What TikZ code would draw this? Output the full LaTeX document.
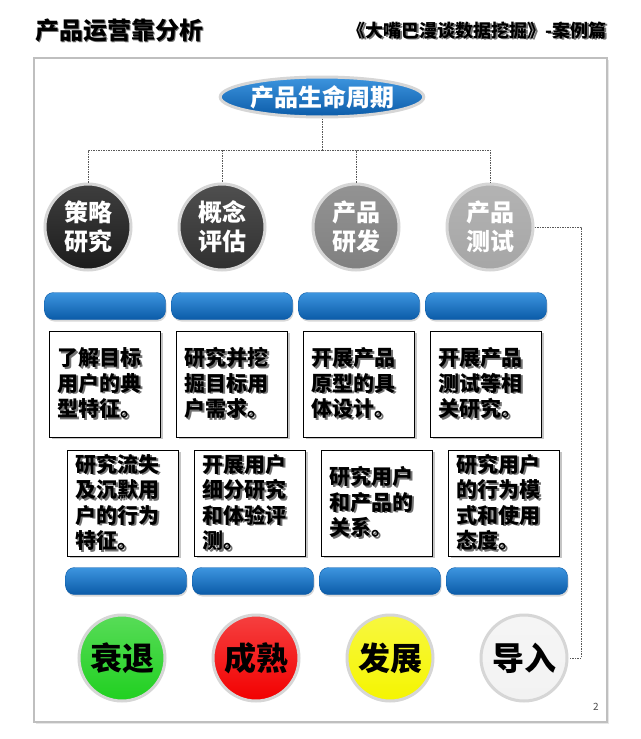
\documentclass[tikz,border=0pt]{standalone}
\usepackage{fontspec}
\setmainfont{Noto Sans CJK SC}
\usetikzlibrary{positioning,shapes.geometric,shadows}
\newdimen\colDist
\newdimen\rowDist
\colDist=134pt
\rowDist=127pt

\definecolor{barTop}{HTML}{3D95DF}
\definecolor{barBot}{HTML}{0B5BA8}
\definecolor{rim}{HTML}{D6D6D6}
\definecolor{stageA}{HTML}{1C1C1C}
\definecolor{stageB}{HTML}{303030}
\definecolor{stageC}{HTML}{808080}
\definecolor{stageD}{HTML}{A6A6A6}
\definecolor{fade}{HTML}{20D020}
\definecolor{ripe}{HTML}{F20000}
\definecolor{grow}{HTML}{F5F500}
\definecolor{intro}{HTML}{F2F2F2}
\newcommand\shd[1]{\leavevmode\rlap{\kern1.5pt\raisebox{-1.5pt}{\textcolor{black!55}{#1}}}#1}

\begin{document}
\begin{tikzpicture}[x=1pt, y=-1pt, on grid,
  stage/.style={circle, draw=rim, line width=3pt, minimum size=86pt, inner sep=0pt,
    top color=#1!85!white, bottom color=#1, text=white, align=center,
    font=\bfseries\fontsize{24}{29}\selectfont},
  phase/.style={circle, draw=rim, line width=3pt, minimum size=86pt, inner sep=0pt,
    top color=#1!75!white, bottom color=#1, text=black,
    font=\bfseries\fontsize{32}{32}\selectfont},
  bar/.style={rectangle, rounded corners=9pt, minimum width=121pt, minimum height=27pt,
    draw=barBot, top color=barTop, bottom color=barBot,
    drop shadow={shadow xshift=1pt, shadow yshift=-2pt, opacity=0.3}},
  note/.style={rectangle, draw=black, line width=0.8pt, fill=white, minimum width=111pt,
    minimum height=106pt, text width=95pt, inner xsep=8pt, align=left,
    font=\bfseries\fontsize{21}{25.5}\selectfont,
    drop shadow={shadow xshift=2pt, shadow yshift=-2pt, opacity=0.45}},
  link/.style={draw=black!65, line width=0.6pt, dash pattern=on 1.5pt off 1pt}]

  \useasboundingbox (0,0) rectangle (640,739);

  % heading
  \node [anchor=west, inner sep=0pt, font=\bfseries\fontsize{24}{24}\selectfont] (title) at (35,31) {\shd{产品运营靠分析}};
  \node [anchor=east, inner sep=0pt, font=\bfseries\fontsize{18}{18}\selectfont] (sub) at (607,31) {\shd{《大嘴巴漫谈数据挖掘》-案例篇}};

  \node [draw=black!25, line width=2pt, fill=white, minimum width=573pt, minimum height=664pt,
    drop shadow={shadow xshift=2pt, shadow yshift=-2pt, opacity=0.2}] (frame) at (320.5,390) {};

  % life cycle and the four stages of work
  \node [ellipse, draw=rim, line width=3pt, minimum width=192pt, minimum height=40pt, inner sep=0pt,
    top color=barTop, bottom color=barBot, text=white,
    font=\bfseries\fontsize{24}{24}\selectfont] (life) at (322,97) {产品生命周期};

  \node [stage=stageA] (s1) at (88,227) {策略\\研究};
  \node [stage=stageB, right=\colDist of s1] (s2) {概念\\评估};
  \node [stage=stageC, right=\colDist of s2] (s3) {产品\\研发};
  \node [stage=stageD, right=\colDist of s3] (s4) {产品\\测试};

  \coordinate (hub) at (322,150);
  \coordinate (side) at (581,227);
  \draw [link] (life) -- (hub);
  \draw [link] (hub) -| (s1);
  \draw [link] (hub) -| (s2);
  \draw [link] (hub) -| (s3);
  \draw [link] (hub) -| (s4);

  % upper bars and notes
  \node [bar] (b1) at (105,306) {};
  \node [bar, right=\rowDist of b1] (b2) {};
  \node [bar, right=\rowDist of b2] (b3) {};
  \node [bar, right=\rowDist of b3] (b4) {};

  \node [note] (n1) at (105,384) {\shd{了解目标}\\\shd{用户的典}\\\shd{型特征。}};
  \node [note, right=\rowDist of n1] (n2) {\shd{研究并挖}\\\shd{掘目标用}\\\shd{户需求。}};
  \node [note, right=\rowDist of n2] (n3) {\shd{开展产品}\\\shd{原型的具}\\\shd{体设计。}};
  \node [note, right=\rowDist of n3] (n4) {\shd{开展产品}\\\shd{测试等相}\\\shd{关研究。}};

  % lower notes and bars
  \node [note] (m1) at (123,503) {\shd{研究流失}\\\shd{及沉默用}\\\shd{户的行为}\\\shd{特征。}};
  \node [note, right=\rowDist of m1] (m2) {\shd{开展用户}\\\shd{细分研究}\\\shd{和体验评}\\\shd{测。}};
  \node [note, right=\rowDist of m2] (m3) {\shd{研究用户}\\\shd{和产品的}\\\shd{关系。}};
  \node [note, right=\rowDist of m3] (m4) {\shd{研究用户}\\\shd{的行为模}\\\shd{式和使用}\\\shd{态度。}};

  \node [bar] (c1) at (126,581) {};
  \node [bar, right=\rowDist of c1] (c2) {};
  \node [bar, right=\rowDist of c2] (c3) {};
  \node [bar, right=\rowDist of c3] (c4) {};

  % product phases
  \node [phase=fade] (g1) at (122,658) {衰退};
  \node [phase=ripe, right=\colDist of g1] (g2) {成熟};
  \node [phase=grow, right=\colDist of g2] (g3) {发展};
  \node [phase=intro, right=\colDist of g3] (g4) {导入};

  \draw [link] (s4) -- (side) |- (g4);

  \node [font=\fontsize{10}{10}\selectfont, text=black!70] (page) at (596,707) {2};
\end{tikzpicture}
\end{document}
